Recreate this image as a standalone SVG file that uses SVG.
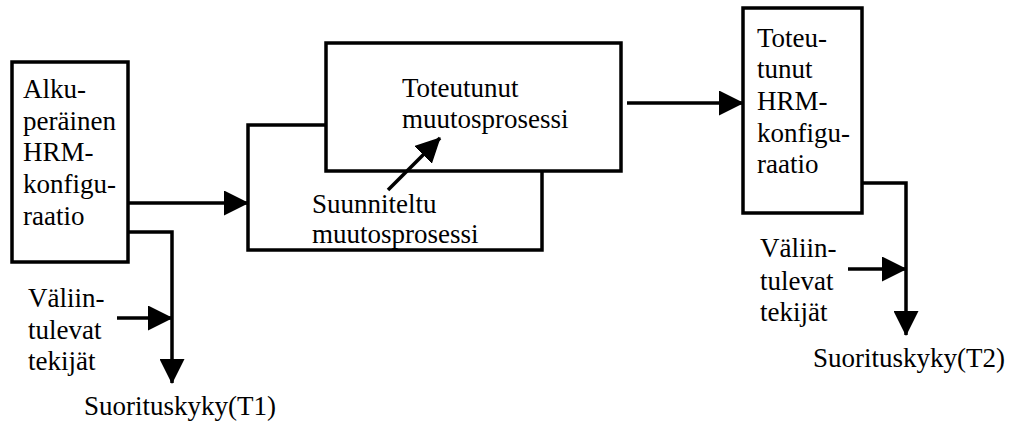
<svg xmlns="http://www.w3.org/2000/svg" width="1020" height="423" viewBox="0 0 1020 423">
  <style>
    .box { fill: #ffffff; stroke: #000000; stroke-width: 3.5; }
    .line { fill: none; stroke: #000000; stroke-width: 3.5; }
    .arrow { fill: none; stroke: #000000; stroke-width: 3.5; marker-end: url(#head); }
    .lbl { font-family: 'Liberation Serif', 'DejaVu Serif', serif; font-size: 27px; fill: #000000; }
  </style>
  <defs>
    <marker id="head" markerUnits="userSpaceOnUse" markerWidth="25" markerHeight="25" refX="24" refY="12.5" orient="auto">
      <path d="M0,0 L25,12.5 L0,25 Z" fill="#000000"/>
    </marker>
  </defs>
  <rect width="1020" height="423" fill="#ffffff"/>

  <!-- original HRM configuration -->
  <g id="node-alkuperainen" class="lbl" font-family="Liberation Serif, serif">
    <rect class="box" x="12" y="62" width="116" height="200"/>
    <text x="23" y="98">Alku-</text>
    <text x="23" y="130">peräinen</text>
    <text x="23" y="161">HRM-</text>
    <text x="23" y="193">konfigu-</text>
    <text x="23" y="225">raatio</text>
  </g>

  <!-- planned change process (behind) -->
  <g id="node-suunniteltu" class="lbl" font-family="Liberation Serif, serif">
    <rect class="box" x="248" y="125" width="294" height="125"/>
    <text x="312" y="213">Suunniteltu</text>
    <text x="312" y="243">muutosprosessi</text>
  </g>

  <!-- realised change process (front) -->
  <g id="node-toteutunut" class="lbl" font-family="Liberation Serif, serif">
    <rect class="box" x="326" y="43" width="295" height="128"/>
    <text x="402" y="97">Toteutunut</text>
    <text x="402" y="128">muutosprosessi</text>
  </g>

  <!-- realised HRM configuration -->
  <g id="node-toteutunut-hrm" class="lbl" font-family="Liberation Serif, serif">
    <rect class="box" x="743" y="8" width="119" height="205"/>
    <text x="757" y="47">Toteu-</text>
    <text x="757" y="78">tunut</text>
    <text x="757" y="110">HRM-</text>
    <text x="757" y="142">konfigu-</text>
    <text x="757" y="173">raatio</text>
  </g>

  <!-- intervening factors and performance labels -->
  <g id="node-valiintulevat-1" class="lbl" font-family="Liberation Serif, serif">
    <text x="28" y="307">Väliin-</text>
    <text x="28" y="339">tulevat</text>
    <text x="28" y="370">tekijät</text>
  </g>
  <g id="node-suorituskyky-1" class="lbl" font-family="Liberation Serif, serif">
    <text x="84" y="415">Suorituskyky(T1)</text>
  </g>
  <g id="node-valiintulevat-2" class="lbl" font-family="Liberation Serif, serif">
    <text x="760" y="257">Väliin-</text>
    <text x="760" y="290">tulevat</text>
    <text x="760" y="321">tekijät</text>
  </g>
  <g id="node-suorituskyky-2" class="lbl" font-family="Liberation Serif, serif">
    <text x="813" y="367">Suorituskyky(T2)</text>
  </g>

  <!-- connectors -->
  <g id="connectors">
    <line class="arrow" x1="128" y1="203" x2="248" y2="203"/>
    <polyline class="arrow" points="128,232 172,232 172,383"/>
    <line class="arrow" x1="117" y1="318" x2="172" y2="318"/>
    <line class="arrow" x1="388" y1="190" x2="440" y2="138"/>
    <line class="arrow" x1="627" y1="103" x2="743" y2="103"/>
    <polyline class="arrow" points="862,183 906,183 906,335"/>
    <line class="arrow" x1="848" y1="269" x2="906" y2="269"/>
  </g>
</svg>
